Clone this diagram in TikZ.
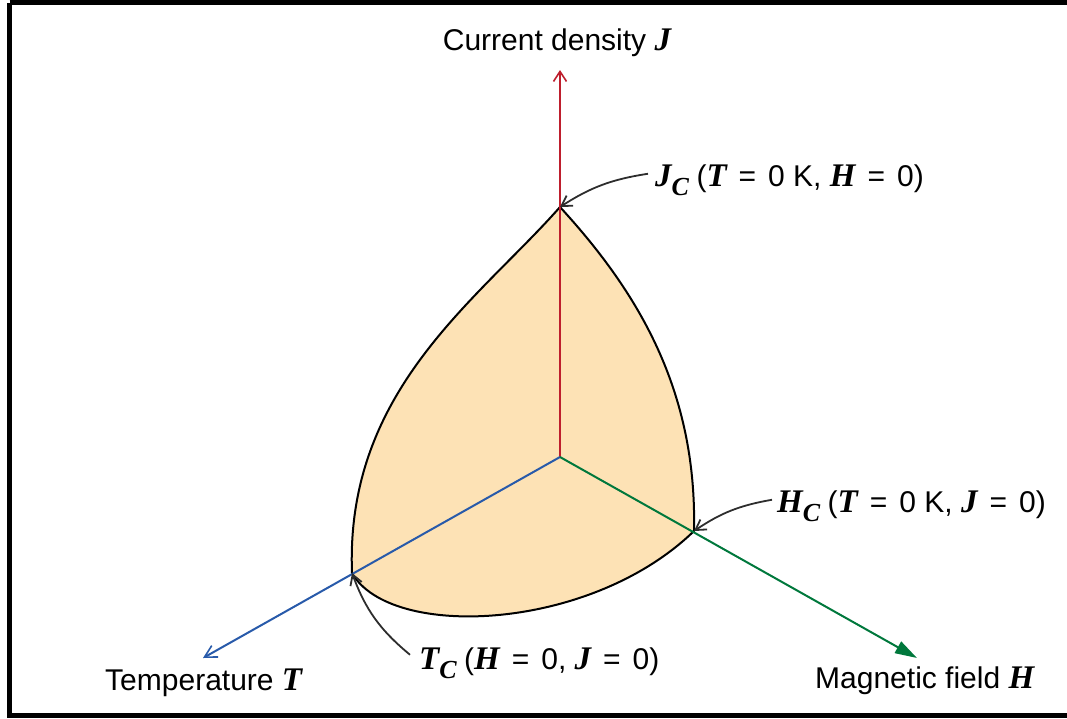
\documentclass[tikz,border=0pt]{standalone}
\usepackage{fontspec}
\setmainfont{Liberation Serif}
\setsansfont{Liberation Sans}
\usetikzlibrary{arrows.meta}
\definecolor{jred}{RGB}{190,30,45}
\definecolor{tblue}{RGB}{40,90,170}
\definecolor{hgreen}{RGB}{0,120,60}
\definecolor{scfill}{RGB}{253,226,181}
\definecolor{annot}{RGB}{45,45,45}
\newcommand\vb[1]{{\fontsize{33}{36}\selectfont\rmfamily\bfseries\itshape #1}}
\newcommand\subv[1]{\raisebox{-0.3em}{\fontsize{26}{28}\selectfont\rmfamily\bfseries\itshape #1}}
\begin{document}
\begin{tikzpicture}[x=1pt,y=-1pt,
  lbl/.style={font=\sffamily\fontsize{30}{34}\selectfont, inner sep=0pt},
  axis/.style={line width=2pt},
  outline/.style={line width=2pt, draw=black, fill=scfill},
  annarrow/.style={line width=1.8pt, draw=annot, -{Straight Barb[length=10pt,width=12pt,line width=1.8pt]}}]
\useasboundingbox (0,0) rectangle (1067,718);
% frame
\draw[line width=5pt] (9.5,2.5) -- (1090,2.5) (9.5,2.5) -- (9.5,715.5) -- (1090,715.5);
% key points
\coordinate (O) at (560,457);
\coordinate (Jc) at (560,207);
\coordinate (Tc) at (352,573);
\coordinate (Hc) at (694,531);
\coordinate (Jtip) at (560,70);
\coordinate (Ttip) at (203,658);
\coordinate (Htip) at (917,658);
% surface
\path[outline] (Jc) .. controls (478,300) and (345,390) .. (Tc)
  .. controls (390,640) and (590,632) .. (Hc)
  .. controls (697,390) and (638,292) .. (Jc) -- cycle;
% axes
\draw[axis, jred, -{Straight Barb[length=10pt,width=13pt,line width=1.6pt]}] (O) -- (Jtip);
\draw[axis, tblue, -{Straight Barb[length=12pt,width=13pt,line width=1.6pt]}] (O) -- (Ttip);
\draw[axis, hgreen, -{Triangle[length=22pt,width=13pt]}] (O) -- (Htip);
% labels
\node[lbl, anchor=base] (jlab) at (557,50) {Current density \vb{J}};
\node[lbl, anchor=base west] (tlab) at (105,690) {Temperature \vb{T}};
\node[lbl, anchor=base west] (hlab) at (815,688) {Magnetic field \vb{H}};
\node[lbl, anchor=base west] (jclab) at (655,186) {\vb{J}\subv{C}\hspace{0.25em}(\vb{T}\hspace{0.4em}=\hspace{0.4em}0 K, \vb{H}\hspace{0.4em}=\hspace{0.4em}0)};
\node[lbl, anchor=base west] (hclab) at (777,512) {\vb{H}\subv{C}\hspace{0.25em}(\vb{T}\hspace{0.4em}=\hspace{0.4em}0 K, \vb{J}\hspace{0.4em}=\hspace{0.4em}0)};
\node[lbl, anchor=base west] (tclab) at (419,669) {\vb{T}\subv{C}\hspace{0.25em}(\vb{H}\hspace{0.4em}=\hspace{0.4em}0, \vb{J}\hspace{0.4em}=\hspace{0.4em}0)};
% annotation arrows
\draw[annarrow] ([shift={(-7,-6)}]jclab.west) to[bend right=12] (Jc);
\draw[annarrow] ([shift={(-5,-6)}]hclab.west) to[bend right=12] (Hc);
\draw[annarrow] ([shift={(-9,-8)}]tclab.west) to[bend left=15] (Tc);
\end{tikzpicture}
\end{document}
